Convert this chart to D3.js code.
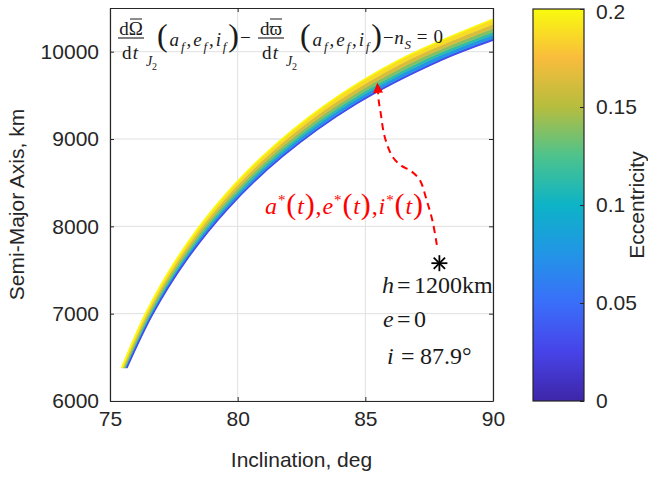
<!DOCTYPE html>
<html>
<head>
<meta charset="utf-8">
<script src="https://cdn.jsdelivr.net/npm/d3@7"></script>
<style>
  body { margin: 0; background: #fff; }
  text { font-family: "Liberation Sans", Arial, sans-serif; }
  .math { font-family: "Liberation Serif", "Times New Roman", serif; }
</style>
</head>
<body>
<div class="canvas"></div>
<script>
// ---- data ----
const eccentricities = [0, 0.05, 0.1, 0.125, 0.15, 0.175, 0.2];
const semiMajorGrid = [6378, 7000, 7600, 8200, 8800, 9400, 9900];
const inclE000 = [75.658, 76.682, 77.962, 79.610, 81.755, 84.626, 87.942];
const inclE050 = [75.645, 76.663, 77.936, 79.574, 81.704, 84.551, 87.830];
const inclE100 = [75.607, 76.608, 77.857, 79.465, 81.551, 84.329, 87.503];
const inclE125 = [75.578, 76.566, 77.800, 79.385, 81.438, 84.165, 87.264];
const inclE150 = [75.543, 76.516, 77.730, 79.287, 81.301, 83.968, 86.979];
const inclE175 = [75.501, 76.457, 77.648, 79.174, 81.143, 83.740, 86.652];
const inclE200 = [75.454, 76.390, 77.554, 79.044, 80.963, 83.482, 86.286];
const semiMajorAt90 = [10133, 10148, 10192, 10225, 10266, 10315, 10372];
const inclSeries = [inclE000, inclE050, inclE100, inclE125, inclE150, inclE175, inclE200];

const xTicks = [75, 80, 85, 90];
const yTicks = [6000, 7000, 8000, 9000, 10000];
const cbTicks = [0, 0.05, 0.1, 0.15, 0.2];

// parula-like colormap stops
const cbStops = [0, 0.025, 0.05, 0.075, 0.1, 0.125, 0.15, 0.175, 0.2];
const cbColors = ["#3e26a8", "#4743e8", "#3a6efa", "#2295e6", "#0db3c7", "#4dc38c", "#b6bd3e", "#f9bc3c", "#f9fb0e"];

// initial orbit and the transfer path
const startIncl = 87.9, startA = 7578;
const pathIncl = [87.9, 87.80, 87.64, 87.40, 87.13, 86.78, 86.42, 86.07, 85.76, 85.60, 85.52, 85.47];
const pathA = [7578, 7787, 8050, 8302, 8532, 8635, 8692, 8795, 9024, 9299, 9448, 9643];

// ---- layout ----
const svg = d3.select(".canvas").append("svg")
  .attr("width", 648).attr("height", 478);

const margin = {top: 8, left: 110};
const width = 383, height = 393;
const axisColor = "#262626";

const graph = svg.append("g").attr("transform", `translate(${margin.left},${margin.top})`);

const x = d3.scaleLinear().domain([75, 90]).range([0, width]);
const y = d3.scaleLinear().domain([6000, 10500]).range([height, 0]);
const color = d3.scaleLinear().domain(cbStops).range(cbColors);

// grid
graph.selectAll(".gx").data(xTicks).enter().append("line")
  .attr("x1", d => x(d)).attr("x2", d => x(d))
  .attr("y1", 0).attr("y2", height)
  .attr("stroke", "#e0e0e0").attr("stroke-width", 1);
graph.selectAll(".gy").data(yTicks).enter().append("line")
  .attr("x1", 0).attr("x2", width)
  .attr("y1", d => y(d)).attr("y2", d => y(d))
  .attr("stroke", "#e0e0e0").attr("stroke-width", 1);

// curves: each series is the a-grid plus the point where i = 90
const series = inclSeries.map((inc, k) => {
  const pts = semiMajorGrid.map((a, j) => [inc[j], a]);
  pts.push([90, semiMajorAt90[k]]);
  return pts;
});

const line = d3.line()
  .x(d => x(d[0])).y(d => y(d[1]))
  .curve(d3.curveCatmullRom.alpha(0.5));

svg.append("defs").append("clipPath").attr("id", "plotClip")
  .append("rect").attr("width", width).attr("height", height);

const bands = graph.append("g").attr("clip-path", "url(#plotClip)");
for (let k = 0; k < series.length - 1; k++) {
  const lower = series[k], upper = series[k + 1];
  const d = line(upper) + line(lower.slice().reverse()).replace(/^M/, "L") + "Z";
  const mid = (eccentricities[k] + eccentricities[k + 1]) / 2;
  bands.append("path").attr("d", d)
    .attr("fill", color(mid))
    .attr("stroke", color(mid)).attr("stroke-width", 0.6);
}
bands.append("path").attr("d", line(series[0]))
  .attr("fill", "none").attr("stroke", color(0.03)).attr("stroke-width", 1.6);
bands.append("path").attr("d", line(series[series.length - 1]))
  .attr("fill", "none").attr("stroke", color(0.2)).attr("stroke-width", 1.6);

// axes (MATLAB style: box, ticks inside)
const fontSize = "21px";
const yAxis = d3.axisLeft(y).tickValues(yTicks).tickSize(-4).tickSizeOuter(0)
  .tickPadding(11).tickFormat(d3.format("d"));
const xAxis = d3.axisBottom(x).tickValues(xTicks).tickSize(-4).tickSizeOuter(0).tickPadding(10);

graph.append("g").call(yAxis);
graph.append("g").attr("transform", `translate(0,${height})`).call(xAxis);
graph.append("g").attr("transform", `translate(${width},0)`)
  .call(d3.axisRight(y).tickValues(yTicks).tickSize(-4).tickSizeOuter(0).tickFormat(""));
graph.append("g")
  .call(d3.axisTop(x).tickValues(xTicks).tickSize(-4).tickSizeOuter(0).tickFormat(""));

graph.selectAll(".domain").attr("stroke", axisColor).attr("stroke-width", 1.2);
graph.selectAll(".tick line").attr("stroke", axisColor);
graph.selectAll(".tick text")
  .attr("fill", axisColor).style("font-size", fontSize)
  .style("font-family", "'Liberation Sans', Arial, sans-serif");

svg.append("text")
  .attr("x", margin.left + width / 2).attr("y", 467)
  .attr("text-anchor", "middle").attr("fill", axisColor)
  .style("font-size", fontSize).text("Inclination, deg");
svg.append("text")
  .attr("transform", `translate(24,${margin.top + height / 2}) rotate(-90)`)
  .attr("text-anchor", "middle").attr("fill", axisColor)
  .style("font-size", fontSize).text("Semi-Major Axis, km");

// colorbar
const cbX = 533, cbY = 9, cbW = 51, cbH = 392;
const grad = svg.select("defs").append("linearGradient")
  .attr("id", "parula").attr("x1", 0).attr("y1", 1).attr("x2", 0).attr("y2", 0);
grad.selectAll("stop").data(cbStops).enter().append("stop")
  .attr("offset", d => d / 0.2)
  .attr("stop-color", (d, i) => cbColors[i]);

const cb = svg.append("g").attr("transform", `translate(${cbX},${cbY})`);
const cScale = d3.scaleLinear().domain([0, 0.2]).range([cbH, 0]);
cb.append("rect").attr("width", cbW).attr("height", cbH).attr("fill", "url(#parula)");
cb.append("g").attr("transform", `translate(${cbW},0)`)
  .call(d3.axisRight(cScale).tickValues(cbTicks).tickSize(-4).tickSizeOuter(0)
    .tickPadding(12).tickFormat(d => String(d)));
cb.append("rect").attr("width", cbW).attr("height", cbH)
  .attr("fill", "none").attr("stroke", axisColor).attr("stroke-width", 1.2);
cb.selectAll(".domain").remove();
cb.selectAll(".tick line").attr("stroke", axisColor);
cb.selectAll(".tick text").attr("fill", axisColor).style("font-size", fontSize)
  .style("font-family", "'Liberation Sans', Arial, sans-serif")
  .attr("dy", d => d === 0.2 ? "0.45em" : "0.32em");
svg.append("text")
  .attr("transform", `translate(644,${cbY + cbH / 2}) rotate(-90)`)
  .attr("text-anchor", "middle").attr("fill", axisColor)
  .style("font-size", fontSize).text("Eccentricity");

// ---- math annotations ----
function mathText(g, x0, base, len, parts, fill) {
  const t = g.append("text").attr("class", "math")
    .attr("x", x0).attr("y", base).attr("fill", fill);
  if (len) t.attr("textLength", len).attr("lengthAdjust", "spacing");
  parts.forEach(p => {
    t.append("tspan")
      .attr("y", base + (p.off || 0))
      .style("font-size", p.size + "px")
      .style("font-style", p.it ? "italic" : "normal")
      .text(p.t);
  });
  return t;
}

const ink = "#1a1a1a";
function fraction(cx, sym) {
  svg.append("text").attr("class", "math").attr("x", cx).attr("y", 35)
    .attr("text-anchor", "middle").attr("fill", ink).style("font-size", "19px")
    .text("d" + sym);
  svg.append("line").attr("x1", cx - 1).attr("x2", cx + 11).attr("y1", 19).attr("y2", 19)
    .attr("stroke", ink).attr("stroke-width", 1);
  svg.append("line").attr("x1", cx - 13).attr("x2", cx + 13).attr("y1", 38).attr("y2", 38)
    .attr("stroke", ink).attr("stroke-width", 1.1);
  mathText(svg, cx - 9, 59, 16, [{t: "d", size: 19}, {t: "t", size: 19, it: true}], ink);
  mathText(svg, cx + 15, 66, 11, [{t: "J", size: 14, it: true}, {t: "2", size: 10, off: 4}], ink);
}
const argParts = [
  {t: "(", size: 32}, {t: "a", size: 19, it: true}, {t: "f", size: 13, it: true, off: 5},
  {t: ",", size: 19}, {t: "e", size: 19, it: true}, {t: "f", size: 13, it: true, off: 5},
  {t: ",", size: 19}, {t: "i", size: 19, it: true}, {t: "f", size: 13, it: true, off: 5},
  {t: ")", size: 32}
];
fraction(131, "\u03A9");
mathText(svg, 157, 46, 82, argParts, ink);
mathText(svg, 240, 44, 9, [{t: "\u2212", size: 19}], ink);
fraction(271, "\u03D6");
mathText(svg, 300, 46, 82, argParts, ink);
mathText(svg, 383, 44, 60, [
  {t: "\u2212", size: 19}, {t: "n", size: 19, it: true}, {t: "S", size: 13, it: true, off: 5},
  {t: " = 0", size: 19, off: -1}
], ink);

// red label
const red = "#ff0000";
const starParts = [];
["a", "e", "i"].forEach((v, k) => {
  starParts.push({t: v, size: 24, it: true}, {t: "*", size: 15, off: -9},
    {t: "(", size: 30}, {t: "t", size: 24, it: true}, {t: ")", size: 30});
  if (k < 2) starParts.push({t: ",", size: 24});
});
mathText(svg, 265, 214, 158, starParts, red);

// transfer path with arrow
const pathPts = pathIncl.map((v, i) => [x(v) + margin.left, y(pathA[i]) + margin.top]);
const tip = pathPts[pathPts.length - 1];
const prev = pathPts[pathPts.length - 2];
const ang = Math.atan2(tip[1] - prev[1], tip[0] - prev[0]);
const headLen = 10, headW = 5;
const base = [tip[0] - headLen * Math.cos(ang), tip[1] - headLen * Math.sin(ang)];
const dashPts = pathPts.slice(0, -1).concat([base]);
svg.append("path")
  .attr("d", d3.line().curve(d3.curveCatmullRom.alpha(0.5))(dashPts.slice(1)))
  .attr("fill", "none").attr("stroke", red).attr("stroke-width", 2)
  .attr("stroke-dasharray", "7,5");
svg.append("path")
  .attr("d", `M${tip[0]},${tip[1]}L${base[0] - headW * Math.sin(ang)},${base[1] + headW * Math.cos(ang)}L${base[0] + headW * Math.sin(ang)},${base[1] - headW * Math.cos(ang)}Z`)
  .attr("fill", red);

// star marker for the initial orbit
const sx = x(startIncl) + margin.left, sy = y(startA) + margin.top;
const star = svg.append("g").attr("transform", `translate(${sx},${sy})`)
  .attr("stroke", "#000").attr("stroke-width", 1.8);
[0, 45, 90, 135].forEach(a => {
  const r = 8, c = Math.cos(a * Math.PI / 180), s = Math.sin(a * Math.PI / 180);
  star.append("line").attr("x1", -r * c).attr("y1", -r * s).attr("x2", r * c).attr("y2", r * s);
});

// initial orbit text: variable, equals sign and value placed separately
const orbitRows = [
  {v: "h", val: "1200km", base: 293, vx: 382},
  {v: "e", val: "0", base: 327, vx: 383},
  {v: "i", val: "87.9\u00B0", base: 364, vx: 387}
];
orbitRows.forEach(r => {
  mathText(svg, r.vx, r.base, null, [{t: r.v, size: 24, it: true}], ink);
  mathText(svg, r.v === "i" ? 401 : 397, r.base, null, [{t: "=", size: 24}], ink);
  mathText(svg, r.v === "i" ? 420 : 414, r.base, null, [{t: r.val, size: 24}], ink);
});
</script>
</body>
</html>
